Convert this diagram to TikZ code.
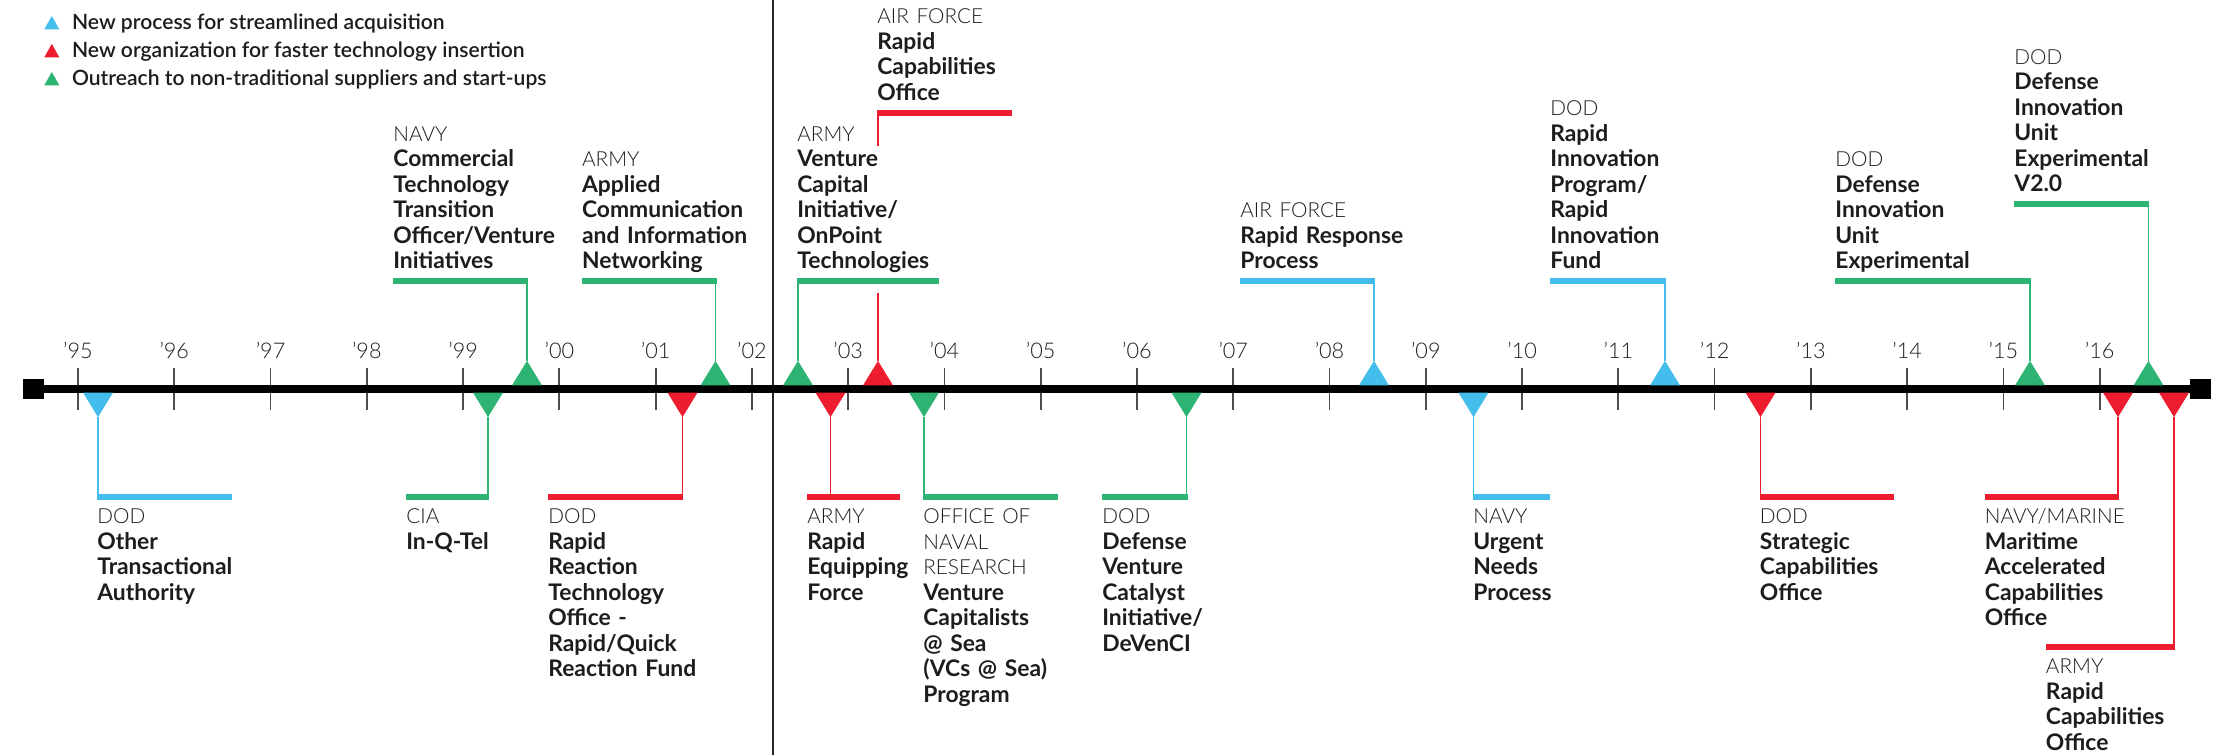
\documentclass[tikz,border=0pt]{standalone}
\usepackage{fontspec}
\setmainfont{Lato}
\newfontfamily\lightf{Lato Light}
\newfontfamily\semif{Lato Semibold}
\usetikzlibrary{positioning}

\definecolor{cBlu}{RGB}{67,190,236}
\definecolor{cRed}{RGB}{237,28,46}
\definecolor{cGrn}{RGB}{45,180,115}
\definecolor{tickgray}{RGB}{77,77,77}
\definecolor{txtblk}{RGB}{30,28,28}

\newcommand{\agcy}[1]{{\lightf\mdseries\fontsize{11.8}{14.5}\selectfont #1}}

\tikzset{
  lbl/.style={inner sep=0pt, align=left, text width=45mm, text=txtblk,
    font=\fontsize{13}{14.5}\selectfont\bfseries},
  lblup/.style={lbl, execute at end node=\strut},
  lbldn/.style={lbl, execute at begin node=\strut},
  lead/.style={line width=1.1pt},
  bar/.style={line width=3.3pt},
  yrtick/.style={tickgray, line width=1pt},
  yrlbl/.style={font=\lightf\fontsize{12.3}{14}\selectfont, text=txtblk,
    anchor=base, inner sep=0pt},
  legtxt/.style={font=\semif\fontsize{12}{14}\selectfont, text=txtblk,
    anchor=base west, inner sep=0pt},
  endsq/.style={fill=black, minimum width=4.15mm, minimum height=4.15mm,
    inner sep=0pt},
  axisln/.style={line width=1.46mm},
  sepln/.style={black!85, line width=0.9pt}
}

\begin{document}
\begin{tikzpicture}[x=0.2mm, y=0.2mm]
  \useasboundingbox (0,-366) rectangle (2220,389);
  \fill[white] (0,-366) rectangle (2220,389);

  % legend
  \foreach \c/\t [count=\i] in {cBlu/New process for streamlined acquisition,
      cRed/New organization for faster technology insertion,
      cGrn/Outreach to non-traditional suppliers and start-ups}{
    \node[legtxt] (lg\i) at (71.7,{359.7-28*(\i-1)}) {\t};
    \fill[\c] (lg\i.base west) ++(-27.4,0) -- ++(15,0) -- ++(-7.5,13.3) -- cycle;
  }

  % divider
  \draw[sepln] (773,389) -- (773,-366);

  % years
  \foreach \yr [count=\k from 0] in {95,96,97,98,99,00,01,02,03,04,05,06,07,08,09,10,11,12,13,14,15,16}{
    \draw[yrtick] ({78+96.27*\k},21) -- ++(0,-42);
    \node[yrlbl] (y\yr) at ({78+96.27*\k},30.5) {’\yr};
  }

  % axis
  \node[endsq] (lsq) at (33.7,0) {};
  \node[endsq] (rsq) at (2200.5,0) {};
  \draw[axisln] (lsq) -- (rsq);

  % markers below / above
  \foreach \n/\x/\c in {1/98/cBlu, 2/488/cGrn, 3/682.5/cRed, 4/830.5/cRed,
      5/924/cGrn, 6/1186.5/cGrn, 7/1473.5/cBlu, 8/1760.5/cRed, 9/2118/cRed,
      10/2174/cRed}{
    \coordinate (m\n) at (\x,-28.1);
    \fill[\c] (m\n) -- ++(-15,24.5) -- ++(30,0) -- cycle;
  }
  \foreach \n/\x/\c in {11/527/cGrn, 12/715.5/cGrn, 13/798/cGrn, 14/878/cRed,
      15/1374/cBlu, 16/1665/cBlu, 17/2030/cGrn, 18/2148.5/cGrn}{
    \coordinate (m\n) at (\x,28.1);
    \fill[\c] (m\n) -- ++(-15,-24.5) -- ++(30,0) -- cycle;
  }

  % below the axis
  \coordinate (b1) at (97,-108);
  \draw[lead, cBlu] (m1) -- (m1 |- b1);
  \draw[bar, cBlu] (b1) -- ++(135,0);
  \node[lbldn, below right=1.74mm and 0mm of b1] (t1)
    {\agcy{DOD}\\Other\\Transactional\\Authority};

  \coordinate (b2) at (406,-108);
  \draw[lead, cGrn] (m2) -- (m2 |- b2);
  \draw[bar, cGrn] (b2) -- ++(82.6,0);
  \node[lbldn, below right=1.74mm and 0mm of b2] (t2)
    {\agcy{CIA}\\In-Q-Tel};

  \coordinate (b3) at (548,-108);
  \draw[lead, cRed] (m3) -- (m3 |- b3);
  \draw[bar, cRed] (b3) -- ++(134.5,0);
  \node[lbldn, below right=1.74mm and 0mm of b3] (t3)
    {\agcy{DOD}\\Rapid\\Reaction\\Technology\\Office -\\Rapid/Quick\\Reaction Fund};

  \coordinate (b4) at (807,-108);
  \draw[lead, cRed] (m4) -- (m4 |- b4);
  \draw[bar, cRed] (b4) -- ++(93,0);
  \node[lbldn, below right=1.74mm and 0mm of b4] (t4)
    {\agcy{ARMY}\\Rapid\\Equipping\\Force};

  \coordinate (b5) at (923,-108);
  \draw[lead, cGrn] (m5) -- (m5 |- b5);
  \draw[bar, cGrn] (b5) -- ++(135,0);
  \node[lbldn, below right=1.74mm and 0mm of b5] (t5)
    {\agcy{OFFICE OF\\NAVAL\\RESEARCH}\\Venture\\Capitalists\\@ Sea\\(VCs @ Sea)\\Program};

  \coordinate (b6) at (1102,-108);
  \draw[lead, cGrn] (m6) -- (m6 |- b6);
  \draw[bar, cGrn] (b6) -- ++(85.5,0);
  \node[lbldn, below right=1.74mm and 0mm of b6] (t6)
    {\agcy{DOD}\\Defense\\Venture\\Catalyst\\Initiative/\\DeVenCI};

  \coordinate (b7) at (1473,-108);
  \draw[lead, cBlu] (m7) -- (m7 |- b7);
  \draw[bar, cBlu] (b7) -- ++(77,0);
  \node[lbldn, below right=1.74mm and 0mm of b7] (t7)
    {\agcy{NAVY}\\Urgent\\Needs\\Process};

  \coordinate (b8) at (1759.6,-108);
  \draw[lead, cRed] (m8) -- (m8 |- b8);
  \draw[bar, cRed] (b8) -- ++(134,0);
  \node[lbldn, below right=1.74mm and 0mm of b8] (t8)
    {\agcy{DOD}\\Strategic\\Capabilities\\Office};

  \coordinate (b9) at (1984.5,-108);
  \draw[lead, cRed] (m9) -- (m9 |- b9);
  \draw[bar, cRed] (b9) -- ++(134,0);
  \node[lbldn, below right=1.74mm and 0mm of b9] (t9)
    {\agcy{NAVY/MARINE}\\Maritime\\Accelerated\\Capabilities\\Office};

  \coordinate (b10) at (2045.6,-257.7);
  \draw[lead, cRed] (m10) -- (m10 |- b10);
  \draw[bar, cRed] (b10) -- ++(129,0);
  \node[lbldn, below right=1.74mm and 0mm of b10] (t10)
    {\agcy{ARMY}\\Rapid\\Capabilities\\Office};

  % above the axis
  \coordinate (b11) at (393,108);
  \draw[lead, cGrn] (m11) -- (m11 |- b11);
  \draw[bar, cGrn] (b11) -- ++(134.5,0);
  \node[lblup, above right=0.88mm and 0mm of b11] (t11)
    {\agcy{NAVY}\\Commercial\\Technology\\Transition\\Officer/Venture\\Initiatives};

  \coordinate (b12) at (581.7,108);
  \draw[lead, cGrn] (m12) -- (m12 |- b12);
  \draw[bar, cGrn] (b12) -- ++(135,0);
  \node[lblup, above right=0.88mm and 0mm of b12] (t12)
    {\agcy{ARMY}\\Applied\\Communication\\and Information\\Networking};

  \coordinate (b13) at (797,108);
  \draw[lead, cGrn] (m13) -- (m13 |- b13);
  \draw[bar, cGrn] (b13) -- ++(142,0);
  \node[lblup, above right=0.88mm and 0mm of b13] (t13)
    {\agcy{ARMY}\\Venture\\Capital\\Initiative/\\OnPoint\\Technologies};

  \coordinate (b14) at (877,276.3);
  \coordinate (k14) at (878,96);
  \coordinate (j14) at (878,243.3);
  \draw[lead, cRed] (m14) -- (k14) (j14) -- (j14 |- b14);
  \draw[bar, cRed] (b14) -- ++(135,0);
  \node[lblup, above right=0.88mm and 0mm of b14] (t14)
    {\agcy{AIR FORCE}\\Rapid\\Capabilities\\Office};

  \coordinate (b15) at (1240,108);
  \draw[lead, cBlu] (m15) -- (m15 |- b15);
  \draw[bar, cBlu] (b15) -- ++(134.5,0);
  \node[lblup, above right=0.88mm and 0mm of b15] (t15)
    {\agcy{AIR FORCE}\\Rapid Response\\Process};

  \coordinate (b16) at (1550,108);
  \draw[lead, cBlu] (m16) -- (m16 |- b16);
  \draw[bar, cBlu] (b16) -- ++(115.5,0);
  \node[lblup, above right=0.88mm and 0mm of b16] (t16)
    {\agcy{DOD}\\Rapid\\Innovation\\Program/\\Rapid\\Innovation\\Fund};

  \coordinate (b17) at (1835,108);
  \draw[lead, cGrn] (m17) -- (m17 |- b17);
  \draw[bar, cGrn] (b17) -- ++(195.5,0);
  \node[lblup, above right=0.88mm and 0mm of b17] (t17)
    {\agcy{DOD}\\Defense\\Innovation\\Unit\\Experimental};

  \coordinate (b18) at (2014,185);
  \draw[lead, cGrn] (m18) -- (m18 |- b18);
  \draw[bar, cGrn] (b18) -- ++(135,0);
  \node[lblup, above right=0.88mm and 0mm of b18] (t18)
    {\agcy{DOD}\\Defense\\Innovation\\Unit\\Experimental\\V2.0};
\end{tikzpicture}
\end{document}
